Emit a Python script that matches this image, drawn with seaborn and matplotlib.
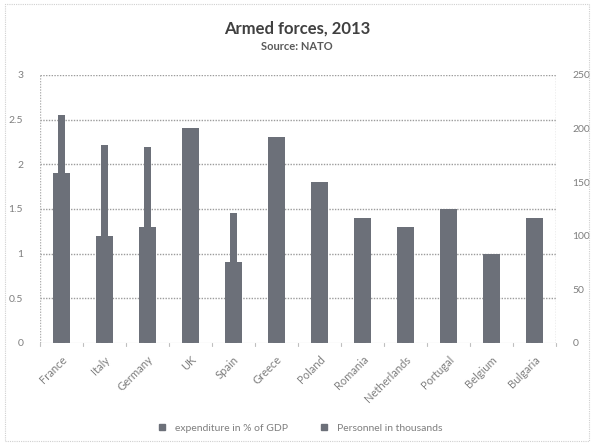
import matplotlib
matplotlib.use("Agg")
import matplotlib.pyplot as plt
import seaborn as sns
from matplotlib.lines import Line2D
from matplotlib.patches import Rectangle

# data
countries = ['France', 'Italy', 'Germany', 'UK', 'Spain', 'Greece', 'Poland',
             'Romania', 'Netherlands', 'Portugal', 'Belgium', 'Bulgaria']
gdp_share = [1.9, 1.2, 1.3, 2.4, 0.9, 2.3, 1.8, 1.4, 1.3, 1.5, 1.0, 1.4]
# personnel, thousands (hidden ones behind the wide bar are estimates)
personnel = [213, 185, 183, 170, 121, 105, 100, 70, 45, 35, 30, 30]
left_ticks = [0, 0.5, 1, 1.5, 2, 2.5, 3]
right_ticks = [0, 50, 100, 150, 200, 250]

bar_col = '#6c7079'
thin_col = '#6c7079'
txt_col = '#7f7f7f'
grid_col = '#9c9c9c'

sns.set_theme(style='white')
plt.rcParams['font.family'] = ['Lato', 'DejaVu Sans']

fig = plt.figure(figsize=(5.94, 4.43), dpi=100)
ax = fig.add_axes([0.067, 0.226, 0.869, 0.605])

sns.barplot(x=countries, y=gdp_share, ax=ax, color=bar_col, width=0.4,
            saturation=1, linewidth=0, zorder=2)
ax2 = ax.twinx()
sns.barplot(x=countries, y=personnel, ax=ax2, color=thin_col, width=0.16,
            saturation=1, linewidth=0, zorder=2)

ax.set_ylim(0, 3)
ax2.set_ylim(0, 250)
ax.set_xlim(-0.5, len(countries) - 0.5)
ax.set_yticks(left_ticks)
ax.set_yticklabels(['0', '0.5', '1', '1.5', '2', '2.5', '3'])
ax2.set_yticks(right_ticks)

# dotted gridlines behind the bars
for t in left_ticks[1:]:
    ax.axhline(t, color=grid_col, linestyle=(0, (1, 1)), linewidth=1, zorder=1)

for a in (ax, ax2):
    for s in a.spines.values():
        s.set_visible(False)
    a.set_ylabel('')
    a.tick_params(axis='y', length=0, labelsize=7.5, labelcolor=txt_col, pad=12)

ax.axvline(-0.5, color='#b0b0b0', linestyle=(0, (1, 1)), linewidth=1)
ax.axvline(len(countries) - 0.5, color='#b0b0b0', linestyle=(0, (1, 1)), linewidth=1)
ax.axhline(0, color='#bfbfbf', linewidth=0.8, zorder=3)

ax.set_xticks(range(len(countries)))
ax.set_xticklabels(countries, rotation=45, ha='right', rotation_mode='anchor',
                   fontsize=8, color=txt_col)
ax.tick_params(axis='x', length=0, pad=8)
# small ticks between categories
for i in range(len(countries) + 1):
    ax.plot([i - 0.5, i - 0.5], [0, -0.04], color='#bfbfbf', lw=0.8,
            clip_on=False, zorder=3)

fig.text(0.5, 0.925, 'Armed forces, 2013', ha='center', fontsize=12,
         fontweight='bold', color='#404040')
fig.text(0.5, 0.888, 'Source: NATO', ha='center', fontsize=8,
         fontweight='bold', color='#595959')

handles = [Line2D([], [], marker='s', ls='', color=bar_col, markersize=4),
           Line2D([], [], marker='s', ls='', color=thin_col, markersize=4)]
fig.legend(handles, ['expenditure in % of GDP', 'Personnel in thousands'],
           loc='center', bbox_to_anchor=(0.5, 0.033), ncol=2, frameon=False,
           fontsize=7.5, labelcolor=txt_col, handletextpad=0.2, columnspacing=2.5)

fig.patches.append(Rectangle((0.008, 0.005), 0.984, 0.985, transform=fig.transFigure,
                             fill=False, edgecolor='#d0d0d0', lw=0.8,
                             linestyle=(0, (1, 1))))

fig.savefig('out.png', dpi=100)
